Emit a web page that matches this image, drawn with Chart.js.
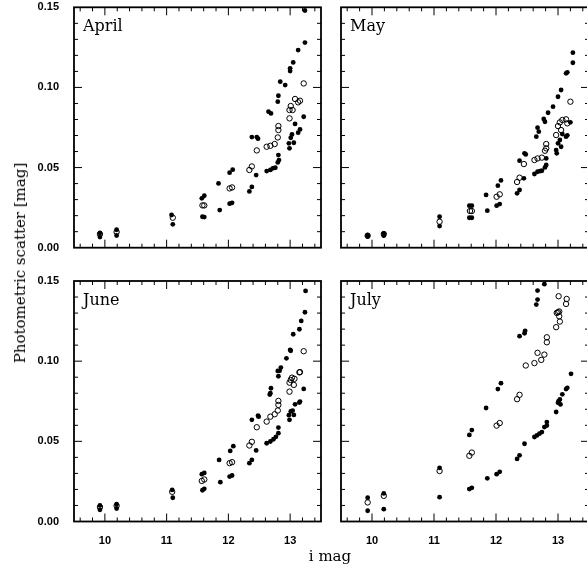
<!DOCTYPE html>
<html>
<head>
<meta charset="utf-8">
<script src="https://cdn.jsdelivr.net/npm/chart.js@4.4.1/dist/chart.umd.min.js"></script>
<style>
  html, body { margin: 0; padding: 0; background: #fff; }
  #wrap { position: relative; width: 587px; height: 564px; overflow: hidden; background: #fff; }
  canvas { position: absolute; }
  .title { position: absolute; font-family: "DejaVu Serif", serif; font-size: 15px; color: #000; white-space: nowrap; }
  #ytitle { left: 20px; top: 263px; transform: translate(-50%, -50%) rotate(-90deg); }
  #xtitle { left: 330px; top: 556px; transform: translate(-50%, -50%); }
</style>
</head>
<body>
<div id="wrap">
  <canvas id="apr" width="330" height="277" style="left:0;top:-12px"></canvas>
  <canvas id="may" width="262" height="277" style="left:330px;top:-12px"></canvas>
  <canvas id="jun" width="330" height="299" style="left:0;top:265px"></canvas>
  <canvas id="jul" width="262" height="299" style="left:330px;top:265px"></canvas>
  <div class="title" id="ytitle">Photometric scatter [mag]</div>
  <div class="title" id="xtitle">i mag</div>
</div>
<script>
// axis ticks
const xMajor = [10, 11, 12, 13];
const yMajor = [0, 0.05, 0.10, 0.15];

// [i mag, scatter]
const aprilFilled = [
  [9.92,0.0092],[10.19,0.0112],[11.08,0.0204],[11.57,0.0308],[11.61,0.0324],[11.84,0.0401],
  [12.02,0.0468],[12.07,0.0487],[12.38,0.069],[12.46,0.069],[12.48,0.068],[12.65,0.0849],
  [12.69,0.0838],[12.8,0.0911],[12.81,0.0948],[12.84,0.1036],[12.92,0.1015],[13.0,0.1119],
  [13.0,0.1102],[13.05,0.1156],[13.13,0.1233],[13.24,0.128],[13.24,0.148],
  [9.92,0.0066],[10.19,0.0076],[11.1,0.0146],[11.58,0.0193],[11.61,0.0191],[11.86,0.0235],
  [12.02,0.0275],[12.06,0.028],[12.34,0.0351],[12.38,0.0379],[12.45,0.0453],[12.62,0.0478],
  [12.68,0.0485],[12.72,0.0495],[12.76,0.0499],[12.8,0.0532],[12.82,0.0547],[12.81,0.0578],
  [12.98,0.0651],[12.99,0.062],[13.01,0.0686],[13.03,0.0707],[13.06,0.0655],[13.08,0.0772],
  [13.13,0.0718],[13.16,0.0738],[13.22,0.0817]
];
const aprilOpen = [
  [9.92,0.0085],[10.19,0.0098],[11.1,0.0187],[11.58,0.0264],[11.61,0.0264],[12.02,0.037],
  [12.06,0.0376],[12.34,0.0485],[12.38,0.0507],[12.46,0.0607],[12.62,0.063],[12.68,0.0636],
  [12.75,0.0647],[12.8,0.0688],[12.81,0.0759],[12.81,0.0734],[12.99,0.0859],[13.01,0.0884],
  [13.04,0.0859],[12.99,0.0807],[13.08,0.0928],[13.13,0.0907],[13.16,0.0917],[13.22,0.1025]
];

const mayFilled = [
  [9.93,0.0078],[9.93,0.007],[10.19,0.009],[10.19,0.0075],[11.09,0.0193],[11.09,0.0135],
  [11.57,0.0262],[11.61,0.0262],[11.57,0.0187],[11.61,0.0187],[11.84,0.0329],[11.86,0.0231],
  [12.03,0.0387],[12.08,0.042],[12.01,0.0262],[12.06,0.0272],[12.34,0.0339],[12.38,0.036],
  [12.38,0.0543],[12.45,0.0433],[12.46,0.0589],[12.48,0.0582],[12.65,0.0693],[12.67,0.0749],
  [12.69,0.0724],[12.77,0.0803],[12.79,0.0786],[12.84,0.0842],[12.92,0.088],[12.62,0.046],
  [12.67,0.0474],[12.71,0.0478],[12.74,0.048],[12.79,0.0501],[12.81,0.0516],[12.81,0.0557],
  [13.0,0.0942],[13.05,0.0984],[13.13,0.1088],[13.15,0.1094],[13.24,0.1154],[13.24,0.1217],
  [12.97,0.0609],[12.98,0.0589],[13.0,0.0651],[13.03,0.0672],[13.05,0.063],[13.07,0.0709],
  [13.13,0.0693],[13.15,0.0701],[13.2,0.0782]
];
const mayOpen = [
  [9.93,0.0075],[10.19,0.0085],[11.09,0.0162],[11.58,0.0229],[11.61,0.0229],[12.01,0.0318],
  [12.06,0.0333],[12.34,0.041],[12.38,0.0437],[12.45,0.0522],[12.62,0.0547],[12.67,0.0557],
  [12.74,0.0562],[12.79,0.0605],[12.81,0.0647],[12.81,0.062],[12.97,0.0703],[13.0,0.0759],
  [13.03,0.0782],[13.05,0.0734],[13.07,0.0797],[13.13,0.0801],[13.15,0.0776],[13.2,0.0911]
];

const juneFilled = [
  [9.92,0.010],[9.92,0.0073],[10.19,0.0108],[10.19,0.0081],[11.09,0.0197],[11.1,0.0148],
  [11.57,0.0295],[11.61,0.0303],[11.58,0.0195],[11.61,0.0204],[11.85,0.0384],[11.87,0.0245],
  [12.03,0.044],[12.08,0.047],[12.02,0.028],[12.06,0.0287],[12.34,0.0364],[12.38,0.0384],
  [12.38,0.0634],[12.45,0.0443],[12.48,0.066],[12.49,0.0654],[12.67,0.0792],[12.69,0.0831],
  [12.68,0.080],[12.8,0.0939],[12.81,0.0906],[12.83,0.094],[12.85,0.096],[12.94,0.1018],
  [12.62,0.0488],[12.68,0.0499],[12.73,0.0513],[12.77,0.0528],[12.81,0.0551],[12.81,0.0586],
  [13.0,0.107],[13.01,0.1065],[13.05,0.1168],[13.15,0.1199],[13.18,0.1251],[13.24,0.1305],
  [13.25,0.1438],[12.98,0.0663],[12.99,0.0634],[13.01,0.0686],[13.04,0.0692],[13.06,0.0665],
  [13.08,0.0731],[13.15,0.0742],[13.16,0.0748],[13.22,0.0827]
];
const juneOpen = [
  [9.92,0.009],[10.19,0.0098],[11.09,0.0185],[11.57,0.0253],[11.61,0.0262],[12.02,0.0364],
  [12.06,0.037],[12.34,0.0474],[12.38,0.0497],[12.46,0.0588],[12.62,0.0623],[12.68,0.0654],
  [12.75,0.0669],[12.8,0.0692],[12.81,0.0752],[12.81,0.0727],[12.99,0.0866],[13.01,0.0883],
  [13.03,0.0897],[13.06,0.0852],[13.07,0.089],[12.99,0.081],[13.15,0.093],[13.16,0.0932],
  [13.22,0.1062]
];

const julyFilled = [
  [9.93,0.0148],[9.93,0.0067],[10.19,0.0175],[10.19,0.0077],[11.09,0.0335],[11.09,0.0152],
  [11.57,0.054],[11.61,0.057],[11.57,0.0202],[11.61,0.021],[11.84,0.0708],[11.86,0.0269],
  [12.03,0.0826],[12.08,0.0863],[12.01,0.0295],[12.06,0.031],[12.34,0.039],[12.38,0.0413],
  [12.38,0.1156],[12.46,0.0485],[12.46,0.1174],[12.47,0.1189],[12.65,0.1353],[12.67,0.1384],
  [12.67,0.144],[12.78,0.148],[12.62,0.0527],[12.66,0.0537],[12.7,0.0548],[12.74,0.0558],
  [12.78,0.0589],[12.82,0.0598],[12.82,0.062],[12.97,0.0683],[13.0,0.0741],[13.01,0.0751],
  [13.03,0.0761],[13.04,0.073],[13.07,0.0793],[13.13,0.0826],[13.15,0.0834],[13.21,0.0921]
];
const julyOpen = [
  [9.93,0.0119],[10.19,0.016],[11.09,0.0315],[11.57,0.041],[11.61,0.043],[12.01,0.0598],
  [12.06,0.0614],[12.34,0.0763],[12.38,0.079],[12.48,0.0973],[12.62,0.0988],[12.67,0.1052],
  [12.73,0.1008],[12.78,0.1041],[12.82,0.1149],[12.82,0.1118],[12.97,0.1212],[12.98,0.1301],
  [13.0,0.1305],[13.02,0.131],[13.02,0.128],[13.03,0.1247],[13.01,0.1405],[13.13,0.1357],
  [13.14,0.1388]
];

// box frame, inward ticks on all four sides, month label
const framePlugin = {
  id: 'frame',
  afterDatasetsDraw(chart, args, opts) {
    const ctx = chart.ctx;
    const a = chart.chartArea;
    const xs = chart.scales.x, ys = chart.scales.y;
    ctx.save();
    ctx.strokeStyle = '#000';
    ctx.lineWidth = 1;
    ctx.beginPath();
    for (let i = 48; i <= 67; i++) {
      const v = i * 0.2;
      const len = Math.abs(v - Math.round(v)) < 1e-6 ? 8 : 4;
      const p = xs.getPixelForValue(v);
      ctx.moveTo(p, a.bottom); ctx.lineTo(p, a.bottom - len);
      ctx.moveTo(p, a.top); ctx.lineTo(p, a.top + len);
    }
    for (let j = 1; j <= 14; j++) {
      const len = j % 5 === 0 ? 8 : 4;
      const p = ys.getPixelForValue(j * 0.01);
      ctx.moveTo(a.left, p); ctx.lineTo(a.left + len, p);
      ctx.moveTo(a.right, p); ctx.lineTo(a.right - len, p);
    }
    ctx.stroke();
    ctx.lineWidth = 1.8;
    ctx.strokeRect(a.left, a.top, a.right - a.left, a.bottom - a.top);
    ctx.fillStyle = '#000';
    ctx.font = '16px "DejaVu Serif"';
    ctx.textBaseline = 'alphabetic';
    ctx.fillText(opts.month, a.left + 9, a.top + 24);
    ctx.restore();
  }
};

const tickFont = { family: 'Liberation Sans', size: 11, weight: 'bold' };

// box = canvas position on page, area = plot frame on page
function makePanel(id, month, filled, open, box, area, showX, showY) {
  const toPts = arr => arr.map(p => ({ x: p[0], y: p[1] }));
  // wanted plot frame in canvas coordinates
  const want = {
    left: area.left - box.left, right: area.right - box.left,
    top: area.top - box.top, bottom: area.bottom - box.top
  };
  const pad = { top: want.top, right: box.width - want.right, bottom: 0, left: 0 };
  const fit = { yWidth: want.left, xHeight: box.height - want.bottom };

  const chart = new Chart(document.getElementById(id), {
    type: 'scatter',
    data: {
      datasets: [
        {
          data: toPts(filled),
          pointRadius: 2.4,
          pointBackgroundColor: '#000',
          pointBorderWidth: 0
        },
        {
          data: toPts(open),
          pointRadius: 2.7,
          pointBackgroundColor: 'rgba(0,0,0,0)',
          pointBorderColor: '#000',
          pointBorderWidth: 1
        }
      ]
    },
    plugins: [framePlugin],
    options: {
      responsive: false,
      animation: false,
      events: [],
      layout: {
        autoPadding: false,
        padding: () => ({ ...pad })
      },
      plugins: {
        legend: { display: false },
        tooltip: { enabled: false },
        frame: { month: month }
      },
      scales: {
        x: {
          type: 'linear',
          min: 9.5,
          max: 13.5,
          grid: { display: false },
          border: { display: false },
          afterBuildTicks: s => { s.ticks = xMajor.map(v => ({ value: v })); },
          afterFit: s => { s.height = fit.xHeight; },
          ticks: { display: showX, font: tickFont, color: '#000', padding: 5, callback: v => String(v) }
        },
        y: {
          min: 0,
          max: 0.15,
          grid: { display: false },
          border: { display: false },
          afterBuildTicks: s => { s.ticks = yMajor.map(v => ({ value: v })); },
          afterFit: s => { s.width = fit.yWidth; },
          ticks: { display: showY, font: tickFont, color: '#000', padding: 7, callback: v => v.toFixed(2) }
        }
      }
    }
  });

  // nudge padding until the plot frame sits where the reference has it
  for (let k = 0; k < 3; k++) {
    const a = chart.chartArea;
    pad.top += want.top - a.top;
    pad.right += a.right - want.right;
    fit.yWidth += want.left - a.left;
    fit.xHeight += a.bottom - want.bottom;
    chart.update('none');
  }
}

makePanel('apr', 'April', aprilFilled, aprilOpen,
  { left: 0, top: -12, width: 330, height: 277 }, { left: 74, top: 7.3, right: 321, bottom: 247.7 }, false, true);
makePanel('may', 'May', mayFilled, mayOpen,
  { left: 330, top: -12, width: 262, height: 277 }, { left: 341, top: 7.3, right: 589, bottom: 247.7 }, false, false);
makePanel('jun', 'June', juneFilled, juneOpen,
  { left: 0, top: 265, width: 330, height: 299 }, { left: 74, top: 281, right: 321, bottom: 521.5 }, true, true);
makePanel('jul', 'July', julyFilled, julyOpen,
  { left: 330, top: 265, width: 262, height: 299 }, { left: 341, top: 281, right: 589, bottom: 521.5 }, true, false);
</script>
</body>
</html>
